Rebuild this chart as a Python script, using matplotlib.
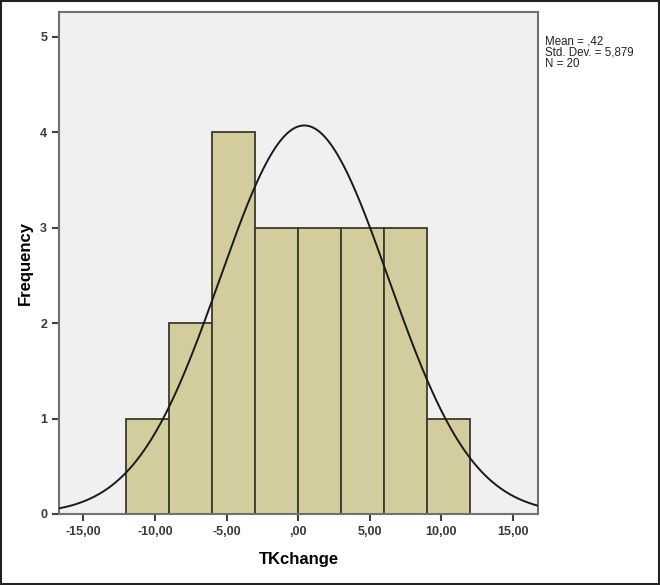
import numpy as np
import matplotlib.pyplot as plt

plt.rcParams['font.family'] = ['Liberation Sans', 'DejaVu Sans']

bin_edges = [-12, -9, -6, -3, 0, 3, 6, 9, 12]
counts = [1, 2, 4, 3, 3, 3, 3, 1]
mean = 0.42
std = 5.879
n = 20
xticks = [-15, -10, -5, 0, 5, 10, 15]
xticklabels = ['-15,00', '-10,00', '-5,00', ',00', '5,00', '10,00', '15,00']
yticks = [0, 1, 2, 3, 4, 5]

fig = plt.figure(figsize=(6.6, 5.85), dpi=100)
ax = fig.add_axes([0.0894, 0.1214, 0.726, 0.858])
ax.set_facecolor('#f0f0f0')

lefts = np.array(bin_edges[:-1])
widths = np.diff(bin_edges)
ax.bar(lefts, counts, width=widths, align='edge', color='#d3cd9e',
       edgecolor='#3a3a2e', linewidth=1.3, zorder=2)

xs = np.linspace(-16.7, 16.75, 400)
binw = widths[0]
ys = n * binw / (std * np.sqrt(2 * np.pi)) * np.exp(-0.5 * ((xs - mean) / std) ** 2)
ax.plot(xs, ys, color='#1a1a1a', linewidth=1.4, zorder=3)

ax.set_xlim(-16.7, 16.75)
ax.set_ylim(0, 5.26)
ax.set_xticks(xticks)
ax.set_xticklabels(xticklabels)
ax.set_yticks(yticks)
ax.tick_params(direction='out', length=5, width=1.5, color='#404040',
               labelsize=9, labelcolor='#3a3a3a')
for lab in ax.get_xticklabels() + ax.get_yticklabels():
    lab.set_fontweight('bold')
for s in ax.spines.values():
    s.set_color('#707070')
    s.set_linewidth(1.5)

ax.set_xlabel('TKchange', fontsize=12, fontweight='bold', labelpad=10)
ax.set_ylabel('Frequency', fontsize=12, fontweight='bold', labelpad=5)

fig.text(0.826, 0.94, 'Mean = ,42\nStd. Dev. = 5,879\nN = 20', fontsize=8.3,
         va='top', ha='left', color='#222222', linespacing=0.95)

# outer frame of the picture
fig.patches.append(plt.Rectangle((0.001, 0.001), 0.997, 0.997, transform=fig.transFigure,
                                 fill=False, edgecolor='#222222', linewidth=1.5))

fig.savefig('out.png', dpi=100)
